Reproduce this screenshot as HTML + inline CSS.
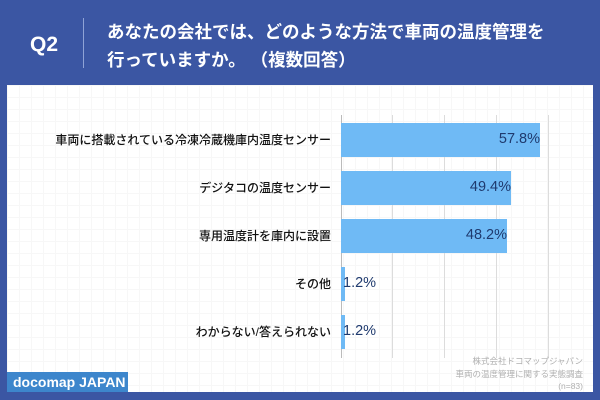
<!DOCTYPE html>
<html><head><meta charset="utf-8"><style>
body{margin:0;width:600px;height:400px;background:#3b56a3;position:relative;overflow:hidden;font-family:"Liberation Sans","Noto Sans CJK JP",sans-serif}
.a{position:absolute}
.panel{left:7px;top:85px;width:586px;height:307px;background:#fff;background-image:linear-gradient(#f7f7f7 1px,transparent 1px),linear-gradient(90deg,#f7f7f7 1px,transparent 1px);background-size:12px 12px}
.g{width:1px;top:115px;height:243px;background:#dcdcdc}
.bar{left:341px;height:34px;background:#6fbaf5}
.lab{right:269px;font-size:12px;color:#111;white-space:nowrap;font-weight:500}
.val{font-size:14.5px;color:#1f3a6e;white-space:nowrap}
.ft{right:17px;font-size:8.5px;color:#b0b0b0;white-space:nowrap}
</style></head><body>
<div class="a" style="left:30px;top:33px;color:#fff;font-size:21px;font-weight:bold">Q2</div>
<div class="a" style="left:83px;top:18px;width:1px;height:50px;background:#8fa3d6"></div>
<div class="a" style="left:107px;top:18px;color:#fff;font-size:17.5px;font-weight:bold;line-height:28px">あなたの会社では、どのような方法で車両の温度管理を<br>行っていますか。 （複数回答）</div>
<div class="a panel"></div>
<div class="a g" style="left:341px;background:#bbb"></div>
<div class="a g" style="left:392px"></div>
<div class="a g" style="left:444px"></div>
<div class="a g" style="left:496px"></div>
<div class="a g" style="left:548px"></div>
<div class="a bar" style="top:123px;width:199px"></div>
<div class="a bar" style="top:171px;width:170px"></div>
<div class="a bar" style="top:219px;width:166px"></div>
<div class="a bar" style="top:267px;width:4px"></div>
<div class="a bar" style="top:315px;width:4px"></div>
<div class="a lab" style="top:131px">車両に搭載されている冷凍冷蔵機庫内温度センサー</div>
<div class="a lab" style="top:179px">デジタコの温度センサー</div>
<div class="a lab" style="top:227px">専用温度計を庫内に設置</div>
<div class="a lab" style="top:275px">その他</div>
<div class="a lab" style="top:323px">わからない/答えられない</div>
<div class="a val" style="right:60px;top:131px">57.8%</div>
<div class="a val" style="right:89px;top:179px">49.4%</div>
<div class="a val" style="right:93px;top:227px">48.2%</div>
<div class="a val" style="left:343px;top:275px">1.2%</div>
<div class="a val" style="left:343px;top:323px">1.2%</div>
<div class="a ft" style="top:355px">株式会社ドコマップジャパン</div>
<div class="a ft" style="top:368px">車両の温度管理に関する実態調査</div>
<div class="a ft" style="top:381px">(n=83)</div>
<div class="a" style="left:7px;top:372px;width:121px;height:20px;background:#3d86cc;color:#fff;font-size:14px;font-weight:bold;line-height:20px;padding-left:6px;box-sizing:border-box">docomap JAPAN</div>
</body></html>
